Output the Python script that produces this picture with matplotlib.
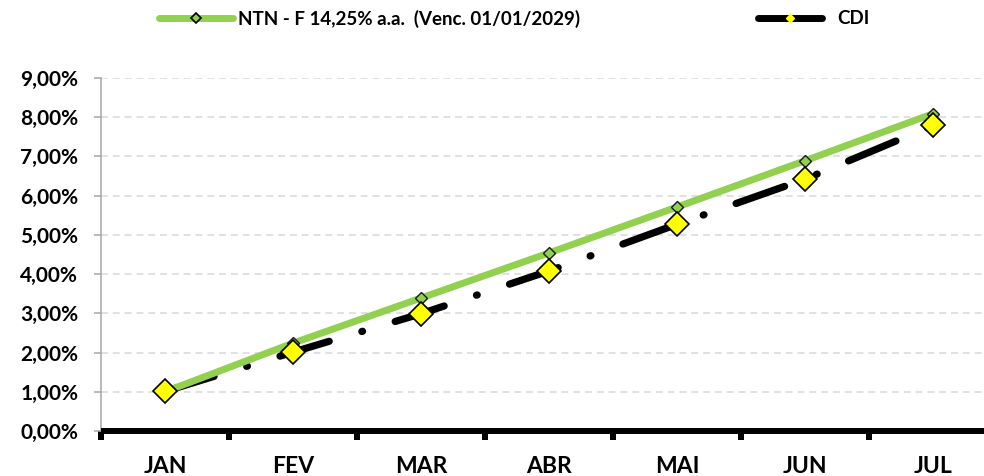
import matplotlib
matplotlib.use("Agg")
import matplotlib.pyplot as plt
from matplotlib.lines import Line2D
from matplotlib.ticker import FuncFormatter, FixedLocator

# data
meses = ['JAN', 'FEV', 'MAR', 'ABR', 'MAI', 'JUN', 'JUL']
ntn = [1.00, 2.24, 3.39, 4.54, 5.71, 6.89, 8.09]
cdi = [1.01, 2.01, 2.99, 4.08, 5.27, 6.42, 7.79]
label_ntn = 'NTN - F 14,25% a.a.  (Venc. 01/01/2029)'
label_cdi = 'CDI'

GREEN = '#92D050'
plt.rcParams['font.family'] = ['Lato', 'DejaVu Sans']
plt.rcParams['font.weight'] = 'bold'
plt.rcParams['lines.scale_dashes'] = False

W, H = 984, 476
fig = plt.figure(figsize=(W / 100, H / 100), dpi=100)
ax = fig.add_axes([101 / W, (H - 431) / H, 896 / W, 353 / H])

x = list(range(len(meses)))

# CDI line (dash-dot), then NTN on top, then CDI markers on top of all
ax.plot(x, cdi, color='black', lw=5.2, zorder=3,
        linestyle=(0, (37, 24.5, 0.6, 24.5)),
        dash_capstyle='round', solid_capstyle='round')
ax.plot(x, ntn, color=GREEN, lw=5, zorder=4, solid_capstyle='butt',
        marker='D', markersize=6.2, markerfacecolor=GREEN,
        markeredgecolor='#1a1a1a', markeredgewidth=1.0)
ax.plot(x, cdi, linestyle='none', marker='D', markersize=11.8,
        markerfacecolor='#FFFF00', markeredgecolor='black',
        markeredgewidth=1.2, zorder=5)

ax.set_xlim(-0.5, 6.5)
ax.set_ylim(0, 9)

# y axis
ax.yaxis.set_major_locator(FixedLocator([i for i in range(10)]))
ax.yaxis.set_major_formatter(FuncFormatter(lambda v, p: f'{v:.2f}'.replace('.', ',') + '%'))
ax.tick_params(axis='y', direction='out', length=5, width=1.1, color='#a6a6a6',
               pad=11.5, labelsize=15)
ax.grid(axis='y', color='#d9d9d9', linestyle=(0, (5, 3.5)), linewidth=1.1, zorder=0)
ax.set_axisbelow(True)

# x axis (category)
ax.set_xticks(x)
ax.set_xticklabels(meses)
ax.set_xticks([i - 0.5 for i in range(len(meses) + 1)], minor=True)
ax.tick_params(axis='x', which='major', length=0, pad=18, labelsize=16.5)
ax.tick_params(axis='x', which='minor', direction='out', length=6.5, width=4.3,
               color='black')

for s in ['top', 'right']:
    ax.spines[s].set_visible(False)
ax.spines['left'].set_color('#a6a6a6')
ax.spines['left'].set_linewidth(1.1)
ax.spines['bottom'].set_color('black')
ax.spines['bottom'].set_linewidth(4.3)
ax.spines['bottom'].set_capstyle('butt')

for lbl in ax.get_xticklabels() + ax.get_yticklabels():
    lbl.set_fontweight('bold')

# legend (two separate entries positioned like the reference)
h_ntn = Line2D([], [], color=GREEN, lw=5, solid_capstyle='round', marker='D',
               markersize=5, markerfacecolor=GREEN, markeredgecolor='black',
               markeredgewidth=1.2)
h_cdi = Line2D([], [], color='black', lw=5, solid_capstyle='round', marker='D',
               markersize=4.5, markerfacecolor='#FFFF00', markeredgecolor='#FFFF00')
fs = 13.5
fpx = fs * 100 / 72
leg_kw = dict(frameon=False, loc='center left', borderpad=0, borderaxespad=0,
              prop={'weight': 'bold', 'size': fs})
fig.legend([h_ntn], [label_ntn], bbox_to_anchor=(159 / W, 1 - 19 / H),
           handlelength=74 / fpx, handletextpad=5 / fpx, **leg_kw)
fig.legend([h_cdi], [label_cdi], bbox_to_anchor=(758 / W, 1 - 19 / H),
           handlelength=64 / fpx, handletextpad=15 / fpx, **leg_kw)

fig.savefig('out.png', dpi=100)
